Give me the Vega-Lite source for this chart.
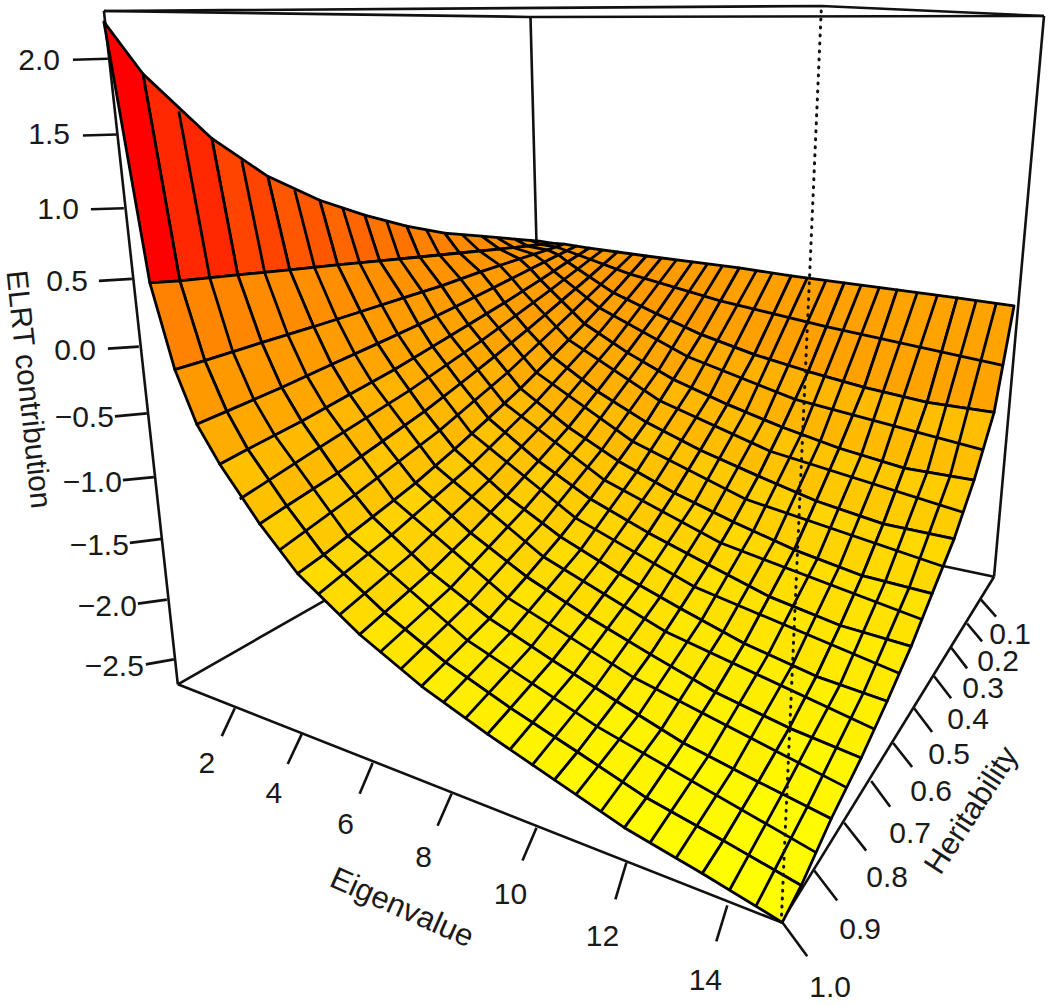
{"$schema":"https://vega.github.io/schema/vega-lite/v6.json","width":1050,"height":1006,"autosize":{"type":"fit","contains":"padding"},"padding":0,"background":"white","config":{"view":{"stroke":null}},
"encoding":{"x":{"field":"x","type":"quantitative","scale":{"domain":[0,1050]},"axis":null},"y":{"field":"y","type":"quantitative","scale":{"domain":[1006,0]},"axis":null}},
"datasets":{
"frame":[{"s":"top1","x":104,"y":7},{"s":"top1","x":822,"y":2},{"s":"top1","x":1045,"y":12},{"s":"top2","x":104,"y":7},{"s":"top2","x":530,"y":13},{"s":"top2","x":1045,"y":12},{"s":"left","x":104,"y":7},{"s":"left","x":178,"y":683},{"s":"back","x":531,"y":13},{"s":"back","x":537,"y":240},{"s":"right","x":1045,"y":12},{"s":"right","x":995,"y":575},{"s":"front","x":178,"y":683},{"s":"front","x":782,"y":922},{"s":"herit","x":782,"y":922},{"s":"herit","x":995,"y":575},{"s":"floorL","x":178,"y":683},{"s":"floorL","x":400,"y":556},{"s":"floorR","x":995,"y":575},{"s":"floorR","x":900,"y":555},
{"s":"z20","x":73,"y":56},{"s":"z20","x":108,"y":55},{"s":"z15","x":83,"y":132},{"s":"z15","x":117,"y":131},{"s":"z10","x":91,"y":206},{"s":"z10","x":124,"y":205},{"s":"z05","x":99,"y":278},{"s":"z05","x":132,"y":276},{"s":"z00","x":108,"y":346},{"s":"z00","x":139,"y":344},{"s":"zm05","x":115,"y":414},{"s":"zm05","x":147,"y":411},{"s":"zm10","x":123,"y":478},{"s":"zm10","x":154,"y":475},{"s":"zm15","x":130,"y":541},{"s":"zm15","x":162,"y":537},{"s":"zm20","x":138,"y":602},{"s":"zm20","x":167,"y":598},{"s":"zm25","x":146,"y":663},{"s":"zm25","x":174,"y":658},
{"s":"e2","x":235,"y":707},{"s":"e2","x":222,"y":735},{"s":"e4","x":302,"y":733},{"s":"e4","x":288,"y":763},{"s":"e6","x":373,"y":762},{"s":"e6","x":360,"y":793},{"s":"e8","x":452,"y":793},{"s":"e8","x":438,"y":825},{"s":"e10","x":537,"y":827},{"s":"e10","x":523,"y":860},{"s":"e12","x":627,"y":862},{"s":"e12","x":616,"y":899},{"s":"e14","x":728,"y":905},{"s":"e14","x":717,"y":941},
{"s":"h1","x":981,"y":597},{"s":"h1","x":997,"y":615},{"s":"h2","x":968,"y":622},{"s":"h2","x":983,"y":640},{"s":"h3","x":952,"y":646},{"s":"h3","x":968,"y":667},{"s":"h4","x":935,"y":675},{"s":"h4","x":952,"y":697},{"s":"h5","x":915,"y":707},{"s":"h5","x":933,"y":731},{"s":"h6","x":894,"y":742},{"s":"h6","x":913,"y":766},{"s":"h7","x":872,"y":780},{"s":"h7","x":891,"y":806},{"s":"h8","x":845,"y":822},{"s":"h8","x":867,"y":850},{"s":"h9","x":815,"y":870},{"s":"h9","x":838,"y":900},{"s":"h10","x":783,"y":922},{"s":"h10","x":808,"y":956}],
"surface":[
{"q":101,"x":540,"y":238,"z":0.08},{"q":101,"x":552,"y":240,"z":0.08},{"q":101,"x":528,"y":243,"z":0.08},{"q":101,"x":515,"y":236,"z":0.08},
{"q":102,"x":515,"y":236,"z":0.15},{"q":102,"x":528,"y":243,"z":0.15},{"q":102,"x":500,"y":246,"z":0.15},{"q":102,"x":482,"y":233,"z":0.15},
{"q":103,"x":482,"y":233,"z":0.31},{"q":103,"x":500,"y":246,"z":0.31},{"q":103,"x":460,"y":250,"z":0.31},{"q":103,"x":445,"y":230,"z":0.31},
{"q":104,"x":445,"y":230,"z":0.5},{"q":104,"x":460,"y":250,"z":0.5},{"q":104,"x":420,"y":254,"z":0.5},{"q":104,"x":407,"y":223,"z":0.5},
{"q":105,"x":407,"y":223,"z":0.79},{"q":105,"x":420,"y":254,"z":0.79},{"q":105,"x":380,"y":258,"z":0.79},{"q":105,"x":365,"y":212,"z":0.79},
{"q":106,"x":365,"y":212,"z":1.08},{"q":106,"x":380,"y":258,"z":1.08},{"q":106,"x":338,"y":262,"z":1.08},{"q":106,"x":320,"y":197,"z":1.08},
{"q":107,"x":320,"y":197,"z":1.38},{"q":107,"x":338,"y":262,"z":1.38},{"q":107,"x":290,"y":267,"z":1.38},{"q":107,"x":268,"y":173,"z":1.38},
{"q":108,"x":268,"y":173,"z":1.67},{"q":108,"x":290,"y":267,"z":1.67},{"q":108,"x":238,"y":272,"z":1.67},{"q":108,"x":212,"y":135,"z":1.67},
{"q":109,"x":212,"y":135,"z":2.02},{"q":109,"x":238,"y":272,"z":2.02},{"q":109,"x":180,"y":278,"z":2.02},{"q":109,"x":143,"y":70,"z":2.02},
{"q":110,"x":143,"y":70,"z":2.25},{"q":110,"x":180,"y":278,"z":2.25},{"q":110,"x":150,"y":280,"z":2.25},{"q":110,"x":104,"y":18,"z":2.25},
{"q":201,"x":552,"y":240,"z":0.02},{"q":201,"x":565,"y":241,"z":0.02},{"q":201,"x":548,"y":247,"z":0.02},{"q":201,"x":528,"y":243,"z":0.02},
{"q":202,"x":528,"y":243,"z":0.02},{"q":202,"x":548,"y":247,"z":0.02},{"q":202,"x":520,"y":256,"z":0.02},{"q":202,"x":500,"y":246,"z":0.02},
{"q":203,"x":500,"y":246,"z":0.04},{"q":203,"x":520,"y":256,"z":0.04},{"q":203,"x":481,"y":269,"z":0.04},{"q":203,"x":460,"y":250,"z":0.04},
{"q":204,"x":460,"y":250,"z":0.08},{"q":204,"x":481,"y":269,"z":0.08},{"q":204,"x":442,"y":283,"z":0.08},{"q":204,"x":420,"y":254,"z":0.08},
{"q":205,"x":420,"y":254,"z":0.11},{"q":205,"x":442,"y":283,"z":0.11},{"q":205,"x":404,"y":295,"z":0.11},{"q":205,"x":380,"y":258,"z":0.11},
{"q":206,"x":380,"y":258,"z":0.15},{"q":206,"x":404,"y":295,"z":0.15},{"q":206,"x":361,"y":309,"z":0.15},{"q":206,"x":338,"y":262,"z":0.15},
{"q":207,"x":338,"y":262,"z":0.21},{"q":207,"x":361,"y":309,"z":0.21},{"q":207,"x":314,"y":324,"z":0.21},{"q":207,"x":290,"y":267,"z":0.21},
{"q":208,"x":290,"y":267,"z":0.29},{"q":208,"x":314,"y":324,"z":0.29},{"q":208,"x":262,"y":340,"z":0.29},{"q":208,"x":238,"y":272,"z":0.29},
{"q":209,"x":238,"y":272,"z":0.39},{"q":209,"x":262,"y":340,"z":0.39},{"q":209,"x":205,"y":358,"z":0.39},{"q":209,"x":180,"y":278,"z":0.39},
{"q":210,"x":180,"y":278,"z":0.46},{"q":210,"x":205,"y":358,"z":0.46},{"q":210,"x":175,"y":367,"z":0.46},{"q":210,"x":150,"y":280,"z":0.46},
{"q":301,"x":565,"y":241,"z":0},{"q":301,"x":577,"y":243,"z":0},{"q":301,"x":559,"y":252,"z":0},{"q":301,"x":548,"y":247,"z":0},
{"q":302,"x":548,"y":247,"z":-0.04},{"q":302,"x":559,"y":252,"z":-0.04},{"q":302,"x":531,"y":266,"z":-0.04},{"q":302,"x":520,"y":256,"z":-0.04},
{"q":303,"x":520,"y":256,"z":-0.08},{"q":303,"x":531,"y":266,"z":-0.08},{"q":303,"x":494,"y":285,"z":-0.08},{"q":303,"x":481,"y":269,"z":-0.08},
{"q":304,"x":481,"y":269,"z":-0.12},{"q":304,"x":494,"y":285,"z":-0.12},{"q":304,"x":456,"y":304,"z":-0.12},{"q":304,"x":442,"y":283,"z":-0.12},
{"q":305,"x":442,"y":283,"z":-0.14},{"q":305,"x":456,"y":304,"z":-0.14},{"q":305,"x":419,"y":322,"z":-0.14},{"q":305,"x":404,"y":295,"z":-0.14},
{"q":306,"x":404,"y":295,"z":-0.14},{"q":306,"x":419,"y":322,"z":-0.14},{"q":306,"x":378,"y":341,"z":-0.14},{"q":306,"x":361,"y":309,"z":-0.14},
{"q":307,"x":361,"y":309,"z":-0.12},{"q":307,"x":378,"y":341,"z":-0.12},{"q":307,"x":332,"y":362,"z":-0.12},{"q":307,"x":314,"y":324,"z":-0.12},
{"q":308,"x":314,"y":324,"z":-0.08},{"q":308,"x":332,"y":362,"z":-0.08},{"q":308,"x":282,"y":385,"z":-0.08},{"q":308,"x":262,"y":340,"z":-0.08},
{"q":309,"x":262,"y":340,"z":-0.04},{"q":309,"x":282,"y":385,"z":-0.04},{"q":309,"x":227,"y":409,"z":-0.04},{"q":309,"x":205,"y":358,"z":-0.04},
{"q":310,"x":205,"y":358,"z":-0.04},{"q":310,"x":227,"y":409,"z":-0.04},{"q":310,"x":197,"y":422,"z":-0.04},{"q":310,"x":175,"y":367,"z":-0.04},
{"q":401,"x":577,"y":243,"z":-0.04},{"q":401,"x":590,"y":245,"z":-0.04},{"q":401,"x":568,"y":259,"z":-0.04},{"q":401,"x":559,"y":252,"z":-0.04},
{"q":402,"x":559,"y":252,"z":-0.1},{"q":402,"x":568,"y":259,"z":-0.1},{"q":402,"x":541,"y":277,"z":-0.1},{"q":402,"x":531,"y":266,"z":-0.1},
{"q":403,"x":531,"y":266,"z":-0.16},{"q":403,"x":541,"y":277,"z":-0.16},{"q":403,"x":505,"y":300,"z":-0.16},{"q":403,"x":494,"y":285,"z":-0.16},
{"q":404,"x":494,"y":285,"z":-0.24},{"q":404,"x":505,"y":300,"z":-0.24},{"q":404,"x":469,"y":322,"z":-0.24},{"q":404,"x":456,"y":304,"z":-0.24},
{"q":405,"x":456,"y":304,"z":-0.27},{"q":405,"x":469,"y":322,"z":-0.27},{"q":405,"x":433,"y":344,"z":-0.27},{"q":405,"x":419,"y":322,"z":-0.27},
{"q":406,"x":419,"y":322,"z":-0.33},{"q":406,"x":433,"y":344,"z":-0.33},{"q":406,"x":395,"y":367,"z":-0.33},{"q":406,"x":378,"y":341,"z":-0.33},
{"q":407,"x":378,"y":341,"z":-0.35},{"q":407,"x":395,"y":367,"z":-0.35},{"q":407,"x":350,"y":392,"z":-0.35},{"q":407,"x":332,"y":362,"z":-0.35},
{"q":408,"x":332,"y":362,"z":-0.37},{"q":408,"x":350,"y":392,"z":-0.37},{"q":408,"x":302,"y":419,"z":-0.37},{"q":408,"x":282,"y":385,"z":-0.37},
{"q":409,"x":282,"y":385,"z":-0.43},{"q":409,"x":302,"y":419,"z":-0.43},{"q":409,"x":248,"y":447,"z":-0.43},{"q":409,"x":227,"y":409,"z":-0.43},
{"q":410,"x":227,"y":409,"z":-0.51},{"q":410,"x":248,"y":447,"z":-0.51},{"q":410,"x":220,"y":462,"z":-0.51},{"q":410,"x":197,"y":422,"z":-0.51},
{"q":501,"x":590,"y":245,"z":-0.04},{"q":501,"x":618,"y":249,"z":-0.04},{"q":501,"x":590,"y":274,"z":-0.04},{"q":501,"x":568,"y":259,"z":-0.04},
{"q":502,"x":568,"y":259,"z":-0.1},{"q":502,"x":590,"y":274,"z":-0.1},{"q":502,"x":562,"y":298,"z":-0.1},{"q":502,"x":541,"y":277,"z":-0.1},
{"q":503,"x":541,"y":277,"z":-0.18},{"q":503,"x":562,"y":298,"z":-0.18},{"q":503,"x":528,"y":327,"z":-0.18},{"q":503,"x":505,"y":300,"z":-0.18},
{"q":504,"x":505,"y":300,"z":-0.29},{"q":504,"x":528,"y":327,"z":-0.29},{"q":504,"x":495,"y":354,"z":-0.29},{"q":504,"x":469,"y":322,"z":-0.29},
{"q":505,"x":469,"y":322,"z":-0.41},{"q":505,"x":495,"y":354,"z":-0.41},{"q":505,"x":461,"y":381,"z":-0.41},{"q":505,"x":433,"y":344,"z":-0.41},
{"q":506,"x":433,"y":344,"z":-0.57},{"q":506,"x":461,"y":381,"z":-0.57},{"q":506,"x":425,"y":409,"z":-0.57},{"q":506,"x":395,"y":367,"z":-0.57},
{"q":507,"x":395,"y":367,"z":-0.7},{"q":507,"x":425,"y":409,"z":-0.7},{"q":507,"x":383,"y":439,"z":-0.7},{"q":507,"x":350,"y":392,"z":-0.7},
{"q":508,"x":350,"y":392,"z":-0.8},{"q":508,"x":383,"y":439,"z":-0.8},{"q":508,"x":338,"y":471,"z":-0.8},{"q":508,"x":302,"y":419,"z":-0.8},
{"q":509,"x":302,"y":419,"z":-0.9},{"q":509,"x":338,"y":471,"z":-0.9},{"q":509,"x":287,"y":504,"z":-0.9},{"q":509,"x":248,"y":447,"z":-0.9},
{"q":510,"x":248,"y":447,"z":-1.01},{"q":510,"x":287,"y":504,"z":-1.01},{"q":510,"x":260,"y":522,"z":-1.01},{"q":510,"x":220,"y":462,"z":-1.01},
{"q":601,"x":618,"y":249,"z":-0.06},{"q":601,"x":647,"y":253,"z":-0.06},{"q":601,"x":614,"y":290,"z":-0.06},{"q":601,"x":590,"y":274,"z":-0.06},
{"q":602,"x":590,"y":274,"z":-0.16},{"q":602,"x":614,"y":290,"z":-0.16},{"q":602,"x":585,"y":321,"z":-0.16},{"q":602,"x":562,"y":298,"z":-0.16},
{"q":603,"x":562,"y":298,"z":-0.29},{"q":603,"x":585,"y":321,"z":-0.29},{"q":603,"x":553,"y":354,"z":-0.29},{"q":603,"x":528,"y":327,"z":-0.29},
{"q":604,"x":528,"y":327,"z":-0.45},{"q":604,"x":553,"y":354,"z":-0.45},{"q":604,"x":521,"y":386,"z":-0.45},{"q":604,"x":495,"y":354,"z":-0.45},
{"q":605,"x":495,"y":354,"z":-0.64},{"q":605,"x":521,"y":386,"z":-0.64},{"q":605,"x":489,"y":416,"z":-0.64},{"q":605,"x":461,"y":381,"z":-0.64},
{"q":606,"x":461,"y":381,"z":-0.82},{"q":606,"x":489,"y":416,"z":-0.82},{"q":606,"x":455,"y":447,"z":-0.82},{"q":606,"x":425,"y":409,"z":-0.82},
{"q":607,"x":425,"y":409,"z":-1.01},{"q":607,"x":455,"y":447,"z":-1.01},{"q":607,"x":416,"y":481,"z":-1.01},{"q":607,"x":383,"y":439,"z":-1.01},
{"q":608,"x":383,"y":439,"z":-1.15},{"q":608,"x":416,"y":481,"z":-1.15},{"q":608,"x":373,"y":515,"z":-1.15},{"q":608,"x":338,"y":471,"z":-1.15},
{"q":609,"x":338,"y":471,"z":-1.26},{"q":609,"x":373,"y":515,"z":-1.26},{"q":609,"x":324,"y":553,"z":-1.26},{"q":609,"x":287,"y":504,"z":-1.26},
{"q":610,"x":287,"y":504,"z":-1.38},{"q":610,"x":324,"y":553,"z":-1.38},{"q":610,"x":298,"y":572,"z":-1.38},{"q":610,"x":260,"y":522,"z":-1.38},
{"q":701,"x":647,"y":253,"z":-0.1},{"q":701,"x":693,"y":259,"z":-0.1},{"q":701,"x":657,"y":311,"z":-0.1},{"q":701,"x":614,"y":290,"z":-0.1},
{"q":702,"x":614,"y":290,"z":-0.25},{"q":702,"x":657,"y":311,"z":-0.25},{"q":702,"x":628,"y":350,"z":-0.25},{"q":702,"x":585,"y":321,"z":-0.25},
{"q":703,"x":585,"y":321,"z":-0.47},{"q":703,"x":628,"y":350,"z":-0.47},{"q":703,"x":598,"y":389,"z":-0.47},{"q":703,"x":553,"y":354,"z":-0.47},
{"q":704,"x":553,"y":354,"z":-0.68},{"q":704,"x":598,"y":389,"z":-0.68},{"q":704,"x":569,"y":425,"z":-0.68},{"q":704,"x":521,"y":386,"z":-0.68},
{"q":705,"x":521,"y":386,"z":-0.88},{"q":705,"x":569,"y":425,"z":-0.88},{"q":705,"x":539,"y":459,"z":-0.88},{"q":705,"x":489,"y":416,"z":-0.88},
{"q":706,"x":489,"y":416,"z":-1.07},{"q":706,"x":539,"y":459,"z":-1.07},{"q":706,"x":507,"y":494,"z":-1.07},{"q":706,"x":455,"y":447,"z":-1.07},
{"q":707,"x":455,"y":447,"z":-1.26},{"q":707,"x":507,"y":494,"z":-1.26},{"q":707,"x":471,"y":531,"z":-1.26},{"q":707,"x":416,"y":481,"z":-1.26},
{"q":708,"x":416,"y":481,"z":-1.48},{"q":708,"x":471,"y":531,"z":-1.48},{"q":708,"x":431,"y":570,"z":-1.48},{"q":708,"x":373,"y":515,"z":-1.48},
{"q":709,"x":373,"y":515,"z":-1.61},{"q":709,"x":431,"y":570,"z":-1.61},{"q":709,"x":385,"y":611,"z":-1.61},{"q":709,"x":324,"y":553,"z":-1.61},
{"q":710,"x":324,"y":553,"z":-1.73},{"q":710,"x":385,"y":611,"z":-1.73},{"q":710,"x":360,"y":633,"z":-1.73},{"q":710,"x":298,"y":572,"z":-1.73},
{"q":801,"x":693,"y":259,"z":-0.14},{"q":801,"x":740,"y":265,"z":-0.14},{"q":801,"x":702,"y":332,"z":-0.14},{"q":801,"x":657,"y":311,"z":-0.14},
{"q":802,"x":657,"y":311,"z":-0.37},{"q":802,"x":702,"y":332,"z":-0.37},{"q":802,"x":674,"y":377,"z":-0.37},{"q":802,"x":628,"y":350,"z":-0.37},
{"q":803,"x":628,"y":350,"z":-0.6},{"q":803,"x":674,"y":377,"z":-0.6},{"q":803,"x":647,"y":420,"z":-0.6},{"q":803,"x":598,"y":389,"z":-0.6},
{"q":804,"x":598,"y":389,"z":-0.88},{"q":804,"x":647,"y":420,"z":-0.88},{"q":804,"x":619,"y":459,"z":-0.88},{"q":804,"x":569,"y":425,"z":-0.88},
{"q":805,"x":569,"y":425,"z":-1.09},{"q":805,"x":619,"y":459,"z":-1.09},{"q":805,"x":591,"y":497,"z":-1.09},{"q":805,"x":539,"y":459,"z":-1.09},
{"q":806,"x":539,"y":459,"z":-1.32},{"q":806,"x":591,"y":497,"z":-1.32},{"q":806,"x":561,"y":535,"z":-1.32},{"q":806,"x":507,"y":494,"z":-1.32},
{"q":807,"x":507,"y":494,"z":-1.54},{"q":807,"x":561,"y":535,"z":-1.54},{"q":807,"x":527,"y":575,"z":-1.54},{"q":807,"x":471,"y":531,"z":-1.54},
{"q":808,"x":471,"y":531,"z":-1.75},{"q":808,"x":527,"y":575,"z":-1.75},{"q":808,"x":490,"y":617,"z":-1.75},{"q":808,"x":431,"y":570,"z":-1.75},
{"q":809,"x":431,"y":570,"z":-1.92},{"q":809,"x":490,"y":617,"z":-1.92},{"q":809,"x":446,"y":661,"z":-1.92},{"q":809,"x":385,"y":611,"z":-1.92},
{"q":810,"x":385,"y":611,"z":-1.98},{"q":810,"x":446,"y":661,"z":-1.98},{"q":810,"x":422,"y":685,"z":-1.98},{"q":810,"x":360,"y":633,"z":-1.98},
{"q":901,"x":740,"y":265,"z":-0.2},{"q":901,"x":792,"y":273,"z":-0.2},{"q":901,"x":755,"y":352,"z":-0.2},{"q":901,"x":702,"y":332,"z":-0.2},
{"q":902,"x":702,"y":332,"z":-0.51},{"q":902,"x":755,"y":352,"z":-0.51},{"q":902,"x":728,"y":402,"z":-0.51},{"q":902,"x":674,"y":377,"z":-0.51},
{"q":903,"x":674,"y":377,"z":-0.8},{"q":903,"x":728,"y":402,"z":-0.8},{"q":903,"x":701,"y":448,"z":-0.8},{"q":903,"x":647,"y":420,"z":-0.8},
{"q":904,"x":647,"y":420,"z":-1.07},{"q":904,"x":701,"y":448,"z":-1.07},{"q":904,"x":675,"y":491,"z":-1.07},{"q":904,"x":619,"y":459,"z":-1.07},
{"q":905,"x":619,"y":459,"z":-1.3},{"q":905,"x":675,"y":491,"z":-1.3},{"q":905,"x":649,"y":531,"z":-1.3},{"q":905,"x":591,"y":497,"z":-1.3},
{"q":906,"x":591,"y":497,"z":-1.54},{"q":906,"x":649,"y":531,"z":-1.54},{"q":906,"x":620,"y":572,"z":-1.54},{"q":906,"x":561,"y":535,"z":-1.54},
{"q":907,"x":561,"y":535,"z":-1.75},{"q":907,"x":620,"y":572,"z":-1.75},{"q":907,"x":588,"y":615,"z":-1.75},{"q":907,"x":527,"y":575,"z":-1.75},
{"q":908,"x":527,"y":575,"z":-1.94},{"q":908,"x":588,"y":615,"z":-1.94},{"q":908,"x":553,"y":659,"z":-1.94},{"q":908,"x":490,"y":617,"z":-1.94},
{"q":909,"x":490,"y":617,"z":-2.1},{"q":909,"x":553,"y":659,"z":-2.1},{"q":909,"x":511,"y":707,"z":-2.1},{"q":909,"x":446,"y":661,"z":-2.1},
{"q":910,"x":446,"y":661,"z":-2.24},{"q":910,"x":511,"y":707,"z":-2.24},{"q":910,"x":488,"y":733,"z":-2.24},{"q":910,"x":422,"y":685,"z":-2.24},
{"q":1001,"x":792,"y":273,"z":-0.22},{"q":1001,"x":845,"y":280,"z":-0.22},{"q":1001,"x":809,"y":369,"z":-0.22},{"q":1001,"x":755,"y":352,"z":-0.22},
{"q":1002,"x":755,"y":352,"z":-0.64},{"q":1002,"x":809,"y":369,"z":-0.64},{"q":1002,"x":783,"y":425,"z":-0.64},{"q":1002,"x":728,"y":402,"z":-0.64},
{"q":1003,"x":728,"y":402,"z":-0.95},{"q":1003,"x":783,"y":425,"z":-0.95},{"q":1003,"x":759,"y":474,"z":-0.95},{"q":1003,"x":701,"y":448,"z":-0.95},
{"q":1004,"x":701,"y":448,"z":-1.25},{"q":1004,"x":759,"y":474,"z":-1.25},{"q":1004,"x":734,"y":520,"z":-1.25},{"q":1004,"x":675,"y":491,"z":-1.25},
{"q":1005,"x":675,"y":491,"z":-1.48},{"q":1005,"x":734,"y":520,"z":-1.48},{"q":1005,"x":709,"y":563,"z":-1.48},{"q":1005,"x":649,"y":531,"z":-1.48},
{"q":1006,"x":649,"y":531,"z":-1.71},{"q":1006,"x":709,"y":563,"z":-1.71},{"q":1006,"x":681,"y":607,"z":-1.71},{"q":1006,"x":620,"y":572,"z":-1.71},
{"q":1007,"x":620,"y":572,"z":-1.92},{"q":1007,"x":681,"y":607,"z":-1.92},{"q":1007,"x":651,"y":653,"z":-1.92},{"q":1007,"x":588,"y":615,"z":-1.92},
{"q":1008,"x":588,"y":615,"z":-2.1},{"q":1008,"x":651,"y":653,"z":-2.1},{"q":1008,"x":617,"y":700,"z":-2.1},{"q":1008,"x":553,"y":659,"z":-2.1},
{"q":1009,"x":553,"y":659,"z":-2.27},{"q":1009,"x":617,"y":700,"z":-2.27},{"q":1009,"x":578,"y":751,"z":-2.27},{"q":1009,"x":511,"y":707,"z":-2.27},
{"q":1010,"x":511,"y":707,"z":-2.39},{"q":1010,"x":578,"y":751,"z":-2.39},{"q":1010,"x":555,"y":779,"z":-2.39},{"q":1010,"x":488,"y":733,"z":-2.39},
{"q":1101,"x":845,"y":280,"z":-0.25},{"q":1101,"x":898,"y":287,"z":-0.25},{"q":1101,"x":865,"y":385,"z":-0.25},{"q":1101,"x":809,"y":369,"z":-0.25},
{"q":1102,"x":809,"y":369,"z":-0.76},{"q":1102,"x":865,"y":385,"z":-0.76},{"q":1102,"x":840,"y":446,"z":-0.76},{"q":1102,"x":783,"y":425,"z":-0.76},
{"q":1103,"x":783,"y":425,"z":-1.09},{"q":1103,"x":840,"y":446,"z":-1.09},{"q":1103,"x":817,"y":499,"z":-1.09},{"q":1103,"x":759,"y":474,"z":-1.09},
{"q":1104,"x":759,"y":474,"z":-1.4},{"q":1104,"x":817,"y":499,"z":-1.4},{"q":1104,"x":795,"y":548,"z":-1.4},{"q":1104,"x":734,"y":520,"z":-1.4},
{"q":1105,"x":734,"y":520,"z":-1.65},{"q":1105,"x":795,"y":548,"z":-1.65},{"q":1105,"x":770,"y":595,"z":-1.65},{"q":1105,"x":709,"y":563,"z":-1.65},
{"q":1106,"x":709,"y":563,"z":-1.88},{"q":1106,"x":770,"y":595,"z":-1.88},{"q":1106,"x":745,"y":642,"z":-1.88},{"q":1106,"x":681,"y":607,"z":-1.88},
{"q":1107,"x":681,"y":607,"z":-2.06},{"q":1107,"x":745,"y":642,"z":-2.06},{"q":1107,"x":716,"y":691,"z":-2.06},{"q":1107,"x":651,"y":653,"z":-2.06},
{"q":1108,"x":651,"y":653,"z":-2.24},{"q":1108,"x":716,"y":691,"z":-2.24},{"q":1108,"x":684,"y":742,"z":-2.24},{"q":1108,"x":617,"y":700,"z":-2.24},
{"q":1109,"x":617,"y":700,"z":-2.41},{"q":1109,"x":684,"y":742,"z":-2.41},{"q":1109,"x":647,"y":797,"z":-2.41},{"q":1109,"x":578,"y":751,"z":-2.41},
{"q":1110,"x":578,"y":751,"z":-2.51},{"q":1110,"x":647,"y":797,"z":-2.51},{"q":1110,"x":625,"y":827,"z":-2.51},{"q":1110,"x":555,"y":779,"z":-2.51},
{"q":1201,"x":898,"y":287,"z":-0.28},{"q":1201,"x":958,"y":295,"z":-0.28},{"q":1201,"x":928,"y":400,"z":-0.28},{"q":1201,"x":865,"y":385,"z":-0.28},
{"q":1202,"x":865,"y":385,"z":-0.88},{"q":1202,"x":928,"y":400,"z":-0.88},{"q":1202,"x":905,"y":466,"z":-0.88},{"q":1202,"x":840,"y":446,"z":-0.88},
{"q":1203,"x":840,"y":446,"z":-1.25},{"q":1203,"x":905,"y":466,"z":-1.25},{"q":1203,"x":884,"y":522,"z":-1.25},{"q":1203,"x":817,"y":499,"z":-1.25},
{"q":1204,"x":817,"y":499,"z":-1.54},{"q":1204,"x":884,"y":522,"z":-1.54},{"q":1204,"x":863,"y":574,"z":-1.54},{"q":1204,"x":795,"y":548,"z":-1.54},
{"q":1205,"x":795,"y":548,"z":-1.79},{"q":1205,"x":863,"y":574,"z":-1.79},{"q":1205,"x":841,"y":624,"z":-1.79},{"q":1205,"x":770,"y":595,"z":-1.79},
{"q":1206,"x":770,"y":595,"z":-2.02},{"q":1206,"x":841,"y":624,"z":-2.02},{"q":1206,"x":817,"y":675,"z":-2.02},{"q":1206,"x":745,"y":642,"z":-2.02},
{"q":1207,"x":745,"y":642,"z":-2.2},{"q":1207,"x":817,"y":675,"z":-2.2},{"q":1207,"x":790,"y":727,"z":-2.2},{"q":1207,"x":716,"y":691,"z":-2.2},
{"q":1208,"x":716,"y":691,"z":-2.35},{"q":1208,"x":790,"y":727,"z":-2.35},{"q":1208,"x":759,"y":781,"z":-2.35},{"q":1208,"x":684,"y":742,"z":-2.35},
{"q":1209,"x":684,"y":742,"z":-2.53},{"q":1209,"x":759,"y":781,"z":-2.53},{"q":1209,"x":724,"y":840,"z":-2.53},{"q":1209,"x":647,"y":797,"z":-2.53},
{"q":1210,"x":647,"y":797,"z":-2.6},{"q":1210,"x":724,"y":840,"z":-2.6},{"q":1210,"x":703,"y":873,"z":-2.6},{"q":1210,"x":625,"y":827,"z":-2.6},
{"q":1301,"x":958,"y":295,"z":-0.3},{"q":1301,"x":1015,"y":303,"z":-0.3},{"q":1301,"x":995,"y":410,"z":-0.3},{"q":1301,"x":928,"y":400,"z":-0.3},
{"q":1302,"x":928,"y":400,"z":-0.97},{"q":1302,"x":995,"y":410,"z":-0.97},{"q":1302,"x":975,"y":478,"z":-0.97},{"q":1302,"x":905,"y":466,"z":-0.97},
{"q":1303,"x":905,"y":466,"z":-1.34},{"q":1303,"x":975,"y":478,"z":-1.34},{"q":1303,"x":955,"y":537,"z":-1.34},{"q":1303,"x":884,"y":522,"z":-1.34},
{"q":1304,"x":884,"y":522,"z":-1.63},{"q":1304,"x":955,"y":537,"z":-1.63},{"q":1304,"x":933,"y":592,"z":-1.63},{"q":1304,"x":863,"y":574,"z":-1.63},
{"q":1305,"x":863,"y":574,"z":-1.92},{"q":1305,"x":933,"y":592,"z":-1.92},{"q":1305,"x":912,"y":645,"z":-1.92},{"q":1305,"x":841,"y":624,"z":-1.92},
{"q":1306,"x":841,"y":624,"z":-2.12},{"q":1306,"x":912,"y":645,"z":-2.12},{"q":1306,"x":888,"y":700,"z":-2.12},{"q":1306,"x":817,"y":675,"z":-2.12},
{"q":1307,"x":817,"y":675,"z":-2.29},{"q":1307,"x":888,"y":700,"z":-2.29},{"q":1307,"x":862,"y":757,"z":-2.29},{"q":1307,"x":790,"y":727,"z":-2.29},
{"q":1308,"x":790,"y":727,"z":-2.47},{"q":1308,"x":862,"y":757,"z":-2.47},{"q":1308,"x":832,"y":818,"z":-2.47},{"q":1308,"x":759,"y":781,"z":-2.47},
{"q":1309,"x":759,"y":781,"z":-2.6},{"q":1309,"x":832,"y":818,"z":-2.6},{"q":1309,"x":802,"y":885,"z":-2.6},{"q":1309,"x":724,"y":840,"z":-2.6},
{"q":1310,"x":724,"y":840,"z":-2.68},{"q":1310,"x":802,"y":885,"z":-2.68},{"q":1310,"x":783,"y":922,"z":-2.68},{"q":1310,"x":703,"y":873,"z":-2.68}],
"grid":[
{"l":"e5","x":603,"y":247},{"l":"e5","x":551,"y":287},{"l":"e5","x":482,"y":338},{"l":"e5","x":410,"y":388},{"l":"e5","x":320,"y":445},{"l":"e5","x":240,"y":497},
{"l":"e7","x":633,"y":251},{"l":"e7","x":573,"y":309},{"l":"e7","x":508,"y":370},{"l":"e7","x":440,"y":428},{"l":"e7","x":355,"y":493},{"l":"e7","x":280,"y":548},
{"l":"e9","x":662,"y":255},{"l":"e9","x":599,"y":331},{"l":"e9","x":537,"y":399},{"l":"e9","x":472,"y":463},{"l":"e9","x":392,"y":533},{"l":"e9","x":318,"y":593},
{"l":"e10","x":677,"y":257},{"l":"e10","x":614,"y":340},{"l":"e10","x":553,"y":412},{"l":"e10","x":490,"y":478},{"l":"e10","x":412,"y":552},{"l":"e10","x":340,"y":613},
{"l":"e12","x":708,"y":261},{"l":"e12","x":643,"y":359},{"l":"e12","x":586,"y":436},{"l":"e12","x":525,"y":507},{"l":"e12","x":451,"y":586},{"l":"e12","x":380,"y":651},
{"l":"e13","x":723,"y":263},{"l":"e13","x":659,"y":368},{"l":"e13","x":602,"y":448},{"l":"e13","x":543,"y":521},{"l":"e13","x":470,"y":601},{"l":"e13","x":401,"y":668},
{"l":"e15","x":757,"y":268},{"l":"e15","x":692,"y":385},{"l":"e15","x":637,"y":470},{"l":"e15","x":581,"y":548},{"l":"e15","x":511,"y":631},{"l":"e15","x":444,"y":701},
{"l":"e16","x":773,"y":270},{"l":"e16","x":710,"y":394},{"l":"e16","x":656,"y":480},{"l":"e16","x":600,"y":559},{"l":"e16","x":532,"y":645},{"l":"e16","x":466,"y":717},
{"l":"e18","x":808,"y":275},{"l":"e18","x":746,"y":410},{"l":"e18","x":695,"y":501},{"l":"e18","x":640,"y":584},{"l":"e18","x":574,"y":673},{"l":"e18","x":510,"y":749},
{"l":"e19","x":827,"y":277},{"l":"e19","x":765,"y":417},{"l":"e19","x":714,"y":510},{"l":"e19","x":661,"y":595},{"l":"e19","x":596,"y":686},{"l":"e19","x":532,"y":765},
{"l":"e21","x":862,"y":282},{"l":"e21","x":802,"y":432},{"l":"e21","x":754,"y":529},{"l":"e21","x":702,"y":619},{"l":"e21","x":639,"y":714},{"l":"e21","x":577,"y":793},
{"l":"e22","x":880,"y":285},{"l":"e22","x":821,"y":439},{"l":"e22","x":775,"y":539},{"l":"e22","x":724,"y":630},{"l":"e22","x":662,"y":728},{"l":"e22","x":602,"y":810},
{"l":"e24","x":918,"y":290},{"l":"e24","x":862,"y":453},{"l":"e24","x":818,"y":557},{"l":"e24","x":769,"y":653},{"l":"e24","x":709,"y":755},{"l":"e24","x":650,"y":843},
{"l":"e25","x":938,"y":293},{"l":"e25","x":883,"y":459},{"l":"e25","x":840,"y":565},{"l":"e25","x":793,"y":664},{"l":"e25","x":734,"y":768},{"l":"e25","x":677,"y":857},
{"l":"e27","x":977,"y":298},{"l":"e27","x":928,"y":470},{"l":"e27","x":886,"y":580},{"l":"e27","x":841,"y":683},{"l":"e27","x":783,"y":793},{"l":"e27","x":730,"y":890},
{"l":"e28","x":997,"y":301},{"l":"e28","x":951,"y":474},{"l":"e28","x":910,"y":586},{"l":"e28","x":864,"y":692},{"l":"e28","x":808,"y":806},{"l":"e28","x":757,"y":905},
{"l":"h1","x":530,"y":237},{"l":"h1","x":540,"y":241},{"l":"h1","x":557,"y":244},{"l":"h1","x":568,"y":248},{"l":"h1","x":579,"y":252},{"l":"h1","x":630,"y":271},{"l":"h1","x":721,"y":298},{"l":"h1","x":827,"y":324},{"l":"h1","x":1005,"y":363},
{"l":"h3","x":498,"y":235},{"l":"h3","x":515,"y":245},{"l":"h3","x":534,"y":251},{"l":"h3","x":545,"y":259},{"l":"h3","x":554,"y":268},{"l":"h3","x":600,"y":305},{"l":"h3","x":688,"y":354},{"l":"h3","x":796,"y":397},{"l":"h3","x":985,"y":448},
{"l":"h5","x":463,"y":232},{"l":"h5","x":480,"y":248},{"l":"h5","x":500,"y":262},{"l":"h5","x":512,"y":275},{"l":"h5","x":523,"y":288},{"l":"h5","x":569,"y":337},{"l":"h5","x":660,"y":398},{"l":"h5","x":771,"y":449},{"l":"h5","x":963,"y":510},
{"l":"h7","x":427,"y":227},{"l":"h7","x":440,"y":252},{"l":"h7","x":461,"y":276},{"l":"h7","x":475,"y":294},{"l":"h7","x":487,"y":311},{"l":"h7","x":537,"y":370},{"l":"h7","x":633,"y":439},{"l":"h7","x":746,"y":497},{"l":"h7","x":945,"y":565},
{"l":"h9","x":387,"y":218},{"l":"h9","x":400,"y":256},{"l":"h9","x":423,"y":289},{"l":"h9","x":437,"y":313},{"l":"h9","x":451,"y":333},{"l":"h9","x":505,"y":401},{"l":"h9","x":605,"y":478},{"l":"h9","x":721,"y":541},{"l":"h9","x":923,"y":618},
{"l":"h11","x":343,"y":205},{"l":"h11","x":360,"y":260},{"l":"h11","x":382,"y":302},{"l":"h11","x":398,"y":331},{"l":"h11","x":414,"y":355},{"l":"h11","x":472,"y":431},{"l":"h11","x":576,"y":516},{"l":"h11","x":695,"y":585},{"l":"h11","x":900,"y":672},
{"l":"h13","x":295,"y":187},{"l":"h13","x":315,"y":265},{"l":"h13","x":337,"y":316},{"l":"h13","x":355,"y":351},{"l":"h13","x":372,"y":379},{"l":"h13","x":436,"y":464},{"l":"h13","x":544,"y":555},{"l":"h13","x":666,"y":630},{"l":"h13","x":875,"y":728},
{"l":"h15","x":242,"y":157},{"l":"h15","x":265,"y":270},{"l":"h15","x":288,"y":332},{"l":"h15","x":307,"y":373},{"l":"h15","x":326,"y":405},{"l":"h15","x":394,"y":498},{"l":"h15","x":508,"y":596},{"l":"h15","x":634,"y":676},{"l":"h15","x":848,"y":787},
{"l":"h17","x":179,"y":108},{"l":"h17","x":210,"y":275},{"l":"h17","x":233,"y":349},{"l":"h17","x":254,"y":397},{"l":"h17","x":275,"y":433},{"l":"h17","x":348,"y":534},{"l":"h17","x":468,"y":639},{"l":"h17","x":597,"y":725},{"l":"h17","x":817,"y":852}],
"leftLabels":[{"t":"2.0","x":60,"y":57},{"t":"1.5","x":70,"y":132},{"t":"1.0","x":79,"y":207},{"t":"0.5","x":88,"y":279},{"t":"0.0","x":96,"y":348},{"t":"−0.5","x":114,"y":416},{"t":"−1.0","x":122,"y":481},{"t":"−1.5","x":129,"y":544},{"t":"−2.0","x":137,"y":605},{"t":"−2.5","x":144,"y":666}],
"otherLabels":[{"t":"2","x":207,"y":763},{"t":"4","x":274,"y":793},{"t":"6","x":346,"y":824},{"t":"8","x":424,"y":857},{"t":"10","x":511,"y":895},{"t":"12","x":603,"y":937},{"t":"14","x":706,"y":981},{"t":"0.1","x":1011,"y":634},{"t":"0.2","x":999,"y":661},{"t":"0.3","x":984,"y":688},{"t":"0.4","x":969,"y":719},{"t":"0.5","x":950,"y":754},{"t":"0.6","x":932,"y":791},{"t":"0.7","x":911,"y":833},{"t":"0.8","x":888,"y":877},{"t":"0.9","x":861,"y":930},{"t":"1.0","x":831,"y":988}]
},
"layer":[
{"data":{"name":"frame"},"mark":{"type":"line","stroke":"#111111","strokeWidth":2.6},"encoding":{"detail":{"field":"s"},"order":{"value":null}}},
{"data":{"name":"surface"},"mark":{"type":"line","interpolate":"linear-closed","stroke":"#000000","strokeWidth":2.8,"strokeJoin":"round"},"encoding":{"detail":{"field":"q"},"order":{"value":null},"fill":{"field":"z","type":"quantitative","legend":null,"scale":{"domain":[2.25,-2.7],"range":["#ff0000","#ffff00"]}}}},
{"data":{"name":"grid"},"mark":{"type":"line","stroke":"#000000","strokeWidth":2.8},"encoding":{"detail":{"field":"l"},"order":{"value":null}}},
{"data":{"values":[{"x":822,"y":7},{"x":782,"y":922}]},"mark":{"type":"line","stroke":"#111111","strokeWidth":3,"strokeDash":[1,7],"strokeCap":"round"},"encoding":{"order":{"value":null}}},
{"data":{"name":"leftLabels"},"mark":{"type":"text","font":"Liberation Sans","fontSize":30,"align":"right","baseline":"middle","fill":"#1a1a1a"},"encoding":{"text":{"field":"t"}}},
{"data":{"name":"otherLabels"},"mark":{"type":"text","font":"Liberation Sans","fontSize":30,"align":"center","baseline":"middle","fill":"#1a1a1a"},"encoding":{"text":{"field":"t"}}},
{"data":{"values":[{"t":"ELRT contribution","x":28,"y":387}]},"mark":{"type":"text","font":"Liberation Sans","fontSize":30,"angle":84,"align":"center","baseline":"middle","fill":"#1a1a1a"},"encoding":{"text":{"field":"t"}}},
{"data":{"values":[{"t":"Eigenvalue","x":402,"y":908}]},"mark":{"type":"text","font":"Liberation Sans","fontSize":31,"angle":24,"align":"center","baseline":"middle","fill":"#1a1a1a"},"encoding":{"text":{"field":"t"}}},
{"data":{"values":[{"t":"Heritability","x":973,"y":810}]},"mark":{"type":"text","font":"Liberation Sans","fontSize":31,"angle":-57,"align":"center","baseline":"middle","fill":"#1a1a1a"},"encoding":{"text":{"field":"t"}}}
]}
